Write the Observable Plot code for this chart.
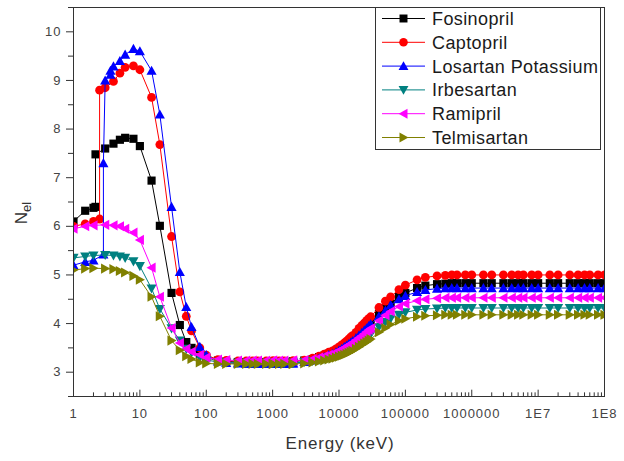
<!DOCTYPE html>
<html><head><meta charset="utf-8">
<script src="https://cdn.jsdelivr.net/npm/d3@7"></script>
<script src="https://cdn.jsdelivr.net/npm/@observablehq/plot@0.6"></script>
<style>
body{margin:0;background:#fff;}
#wrap{position:relative;width:624px;height:461px;font-family:"Liberation Sans",Arial,sans-serif;}
#legend{position:absolute;left:375px;top:7px;}
</style></head>
<body><div id="wrap"></div>
<script>
// ---- data ----
const energy = [1, 1.5, 2, 3, 4, 5, 6, 8, 10,
  15, 20, 30, 40, 50, 60, 80, 100,
  150, 200, 300, 400, 500, 600, 800, 1000, 1022, 1250, 1500, 2000, 2044,
  3000, 4000, 5000, 6000, 7000, 8000, 9000,
  10000, 11000, 12000, 13000, 14000, 15000, 16000, 18000,
  20000, 22000, 24000, 26000, 28000, 30000,
  40000, 50000, 60000, 80000,
  1e5, 1.5e5, 2e5, 3e5, 4e5, 5e5, 6e5, 8e5,
  1e6, 1.5e6, 2e6, 3e6, 4e6, 5e6, 6e6, 8e6,
  1e7, 1.5e7, 2e7, 3e7, 4e7, 5e7, 6e7, 8e7, 1e8];

const fosinopril = [6.10, 6.32, 6.38, 7.60, 7.70, 7.78, 7.82, 7.80, 7.65,
  6.94, 6.01, 4.63, 3.97, 3.62, 3.50, 3.38, 3.30,
  3.24, 3.22, 3.21, 3.21, 3.21, 3.21, 3.21, 3.21, 3.21, 3.21, 3.21, 3.22, 3.22,
  3.24, 3.27, 3.31, 3.34, 3.38, 3.41, 3.44,
  3.47, 3.51, 3.54, 3.58, 3.61, 3.64, 3.67, 3.73,
  3.80, 3.85, 3.90, 3.95, 3.99, 4.03,
  4.20, 4.32, 4.41, 4.55,
  4.63, 4.73, 4.78, 4.81, 4.82, 4.83, 4.83, 4.83,
  4.83, 4.83, 4.83, 4.83, 4.83, 4.83, 4.83, 4.83,
  4.83, 4.83, 4.83, 4.83, 4.83, 4.83, 4.83, 4.83, 4.83];

const captopril = [6.00, 6.05, 6.10, 8.85, 8.98, 9.15, 9.27, 9.30, 9.22,
  8.65, 7.68, 5.79, 4.65, 4.15, 3.85, 3.50, 3.35,
  3.26, 3.24, 3.23, 3.23, 3.23, 3.23, 3.23, 3.23, 3.23, 3.23, 3.23, 3.23, 3.23,
  3.25, 3.29, 3.33, 3.37, 3.41, 3.44, 3.48,
  3.52, 3.56, 3.60, 3.64, 3.68, 3.72, 3.75, 3.82,
  3.90, 3.96, 4.01, 4.06, 4.10, 4.14,
  4.33, 4.46, 4.55, 4.70,
  4.79, 4.90, 4.95, 4.98, 4.99, 5.00, 5.00, 5.00,
  5.00, 5.00, 5.00, 5.00, 5.00, 5.00, 5.00, 5.00,
  5.00, 5.00, 5.00, 5.00, 5.00, 5.00, 5.00, 5.00, 5.00];

const losartan = [5.20, 5.27, 5.30, 9.00, 9.29, 9.40, 9.53, 9.65, 9.60,
  9.20, 8.30, 6.40, 5.06, 4.34, 3.93, 3.52, 3.35,
  3.22, 3.19, 3.18, 3.17, 3.17, 3.17, 3.17, 3.17, 3.17, 3.17, 3.17, 3.18, 3.18,
  3.21, 3.24, 3.28, 3.31, 3.35, 3.38, 3.41,
  3.45, 3.48, 3.52, 3.55, 3.58, 3.61, 3.64, 3.70,
  3.76, 3.81, 3.86, 3.90, 3.95, 3.99,
  4.15, 4.27, 4.38, 4.50,
  4.57, 4.65, 4.69, 4.72, 4.73, 4.73, 4.73, 4.73,
  4.73, 4.73, 4.73, 4.73, 4.73, 4.73, 4.73, 4.73,
  4.73, 4.73, 4.73, 4.73, 4.73, 4.73, 4.73, 4.73, 4.73];

const irbesartan = [5.35, 5.38, 5.40, 5.41, 5.40, 5.38, 5.35, 5.28, 5.18,
  4.72, 4.30, 3.90, 3.65, 3.48, 3.40, 3.30, 3.25,
  3.21, 3.20, 3.19, 3.19, 3.19, 3.19, 3.19, 3.19, 3.19, 3.19, 3.19, 3.19, 3.19,
  3.21, 3.23, 3.25, 3.28, 3.30, 3.32, 3.34,
  3.37, 3.39, 3.42, 3.44, 3.47, 3.49, 3.51, 3.56,
  3.60, 3.64, 3.68, 3.72, 3.75, 3.78,
  3.93, 4.03, 4.10, 4.18,
  4.23, 4.28, 4.30, 4.31, 4.32, 4.32, 4.32, 4.32,
  4.32, 4.32, 4.32, 4.32, 4.32, 4.32, 4.32, 4.32,
  4.32, 4.32, 4.32, 4.32, 4.32, 4.32, 4.32, 4.32, 4.32];

const ramipril = [5.95, 6.00, 6.02, 6.03, 6.02, 6.00, 5.95, 5.87, 5.72,
  5.15, 4.55, 3.91, 3.60, 3.48, 3.42, 3.36, 3.30,
  3.26, 3.25, 3.24, 3.24, 3.24, 3.24, 3.24, 3.24, 3.24, 3.24, 3.24, 3.24, 3.24,
  3.25, 3.27, 3.30, 3.33, 3.36, 3.38, 3.41,
  3.44, 3.47, 3.50, 3.53, 3.56, 3.58, 3.61, 3.66,
  3.71, 3.75, 3.79, 3.83, 3.87, 3.90,
  4.06, 4.17, 4.25, 4.35,
  4.41, 4.47, 4.50, 4.52, 4.53, 4.53, 4.53, 4.53,
  4.53, 4.53, 4.53, 4.53, 4.53, 4.53, 4.53, 4.53,
  4.53, 4.53, 4.53, 4.53, 4.53, 4.53, 4.53, 4.53, 4.53];

const telmisartan = [5.10, 5.13, 5.14, 5.13, 5.12, 5.08, 5.05, 4.98, 4.90,
  4.55, 4.15, 3.65, 3.45, 3.33, 3.27, 3.20, 3.18,
  3.17, 3.17, 3.17, 3.17, 3.17, 3.17, 3.17, 3.17, 3.17, 3.17, 3.17, 3.17, 3.17,
  3.18, 3.20, 3.22, 3.24, 3.26, 3.28, 3.30,
  3.32, 3.34, 3.36, 3.38, 3.40, 3.42, 3.44, 3.48,
  3.52, 3.56, 3.59, 3.62, 3.65, 3.68,
  3.82, 3.91, 3.98, 4.06,
  4.10, 4.14, 4.16, 4.17, 4.18, 4.18, 4.18, 4.18,
  4.18, 4.18, 4.18, 4.18, 4.18, 4.18, 4.18, 4.18,
  4.18, 4.18, 4.18, 4.18, 4.18, 4.18, 4.18, 4.18, 4.18];

// absorption edges: [energy, value below, value above]
const fosinoprilEdges = [[2.1455, 6.40, 7.48]];
const captoprilEdges = [[2.472, 6.15, 8.80]];
const losartanEdges = [[2.8224, 5.42, 7.30], [3.6074, 9.12, 9.20]];

const seriesNames = ["Fosinopril", "Captopril", "Losartan Potassium", "Irbesartan", "Ramipril", "Telmisartan"];
const seriesColors = ["#000000", "#ff0000", "#0000ff", "#008080", "#ff00ff", "#808000"];
const seriesSymbols = ["square", "circle", "up", "down", "left", "right"];
const seriesValues = [fosinopril, captopril, losartan, irbesartan, ramipril, telmisartan];
const seriesEdges = [fosinoprilEdges, captoprilEdges, losartanEdges, [], [], []];

const xTickValues = [1, 10, 100, 1000, 10000, 100000, 1000000, 1e7, 1e8];
const xTickLabels = ["1", "10", "100", "1000", "10000", "100000", "1000000", "1E7", "1E8"];
const yTickValues = [3, 4, 5, 6, 7, 8, 9, 10];
const yMinorTicks = [2.5, 3.5, 4.5, 5.5, 6.5, 7.5, 8.5, 9.5, 10.5];
const xLabel = "Energy (keV)";

// ---- symbols ----
function tri(dir) {
  return {draw(ctx, size) {
    const s = Math.sqrt(size), a = 0.62 * s, b = 0.5 * s, w = 0.62 * s;
    let p;
    if (dir === "up") p = [[0, -a], [-w, b], [w, b]];
    else if (dir === "down") p = [[0, a], [-w, -b], [w, -b]];
    else if (dir === "left") p = [[-a, 0], [b, -w], [b, w]];
    else p = [[a, 0], [-b, -w], [-b, w]];
    ctx.moveTo(p[0][0], p[0][1]); ctx.lineTo(p[1][0], p[1][1]); ctx.lineTo(p[2][0], p[2][1]); ctx.closePath();
  }};
}
const symbolOf = k => (k === "square" || k === "circle") ? k : tri(k);

// ---- build rows ----
const rowsBySeries = seriesNames.map((name, si) => {
  const rows = energy.map((e, i) => ({E: e, v: seriesValues[si][i]}));
  for (const [e, lo, hi] of seriesEdges[si]) { rows.push({E: e, v: lo}); rows.push({E: e, v: hi}); }
  return rows.sort((a, b) => a.E - b.E);
});

const xMinor = [];
for (let k = 0; k < 8; k++) for (let m = 2; m <= 9; m++) xMinor.push(m * Math.pow(10, k));

const marks = [
  Plot.ruleX(xTickValues, {x: d => d, y1: 2.5, y2: 2.63, stroke: "#333"}),
  Plot.ruleX(xMinor, {x: d => d, y1: 2.5, y2: 2.575, stroke: "#333"}),
  Plot.axisY({ticks: yTickValues, tickSize: 7, tickPadding: 5, label: null, fontSize: 13, stroke: "#333"}),
  Plot.axisY({ticks: yMinorTicks, tickSize: 5, text: null, label: null, stroke: "#333"}),
  Plot.axisX({ticks: xTickValues, tickSize: 0, tickPadding: 12, label: null, fontSize: 13,
    tickFormat: d => xTickLabels[xTickValues.indexOf(d)]}),
];
seriesNames.forEach((name, si) => {
  marks.push(Plot.line(rowsBySeries[si], {x: "E", y: "v", stroke: seriesColors[si], strokeWidth: 1, clip: true}));
  marks.push(Plot.dot(rowsBySeries[si], {x: "E", y: "v", symbol: symbolOf(seriesSymbols[si]),
    r: seriesSymbols[si] === "circle" ? 4.4 : 4.6, fill: seriesColors[si], stroke: "none", clip: true}));
});
marks.push(Plot.frame({stroke: "#333"}));

const chart = Plot.plot({
  width: 624, height: 461,
  marginLeft: 73, marginRight: 20, marginTop: 7, marginBottom: 65,
  style: {fontFamily: "'Liberation Sans', Arial, sans-serif", fontSize: "13px", color: "#444", background: "white"},
  x: {type: "log", domain: [1, 1e8]},
  y: {domain: [2.5, 10.5]},
  marks
});
document.getElementById("wrap").appendChild(chart);

const svg = d3.select(chart);
svg.selectAll('g[aria-label="x-axis tick label"] text, g[aria-label="y-axis tick label"] text')
  .style("letter-spacing", "1px");
// y label N_el
const yl = svg.append("text").attr("transform", "translate(27,213) rotate(-90)")
  .attr("fill", "#333").style("font-size", "17px");
yl.append("tspan").text("N");
yl.append("tspan").attr("dy", 4).style("font-size", "13px").text("el");
// x label
svg.append("text").attr("x", 340).attr("y", 449).attr("text-anchor", "middle")
  .attr("fill", "#333").style("font-size", "17px").style("letter-spacing", "0.8px").text(xLabel);

// ---- legend ----
const lw = 226, lh = 143;
const leg = d3.select("#wrap").append("svg").attr("id", "legend").attr("width", lw + 2).attr("height", lh + 2);
leg.append("rect").attr("x", 0.5).attr("y", 0.5).attr("width", lw - 1).attr("height", lh - 1)
  .attr("fill", "white").attr("stroke", "#333");
seriesNames.forEach((name, i) => {
  const cy = 11.5 + i * 23.8;
  const g = leg.append("g");
  g.append("line").attr("x1", 7).attr("x2", 50).attr("y1", cy).attr("y2", cy)
    .attr("stroke", seriesColors[i]).attr("stroke-width", 1);
  const sym = seriesSymbols[i];
  const size = sym === "circle" ? Math.PI * 4.3 * 4.3 : Math.PI * 4.5 * 4.5;
  const type = sym === "square" ? d3.symbolSquare : sym === "circle" ? d3.symbolCircle : tri(sym);
  g.append("path").attr("d", d3.symbol(type, size)()).attr("transform", `translate(28.5,${cy})`)
    .attr("fill", seriesColors[i]);
  g.append("text").attr("x", 57).attr("y", cy).attr("dy", "0.36em")
    .style("font-family", "'Liberation Sans', Arial, sans-serif").style("font-size", "18px")
    .style("letter-spacing", "0.4px").attr("fill", "#1a1a1a").text(name);
});
</script></body></html>
